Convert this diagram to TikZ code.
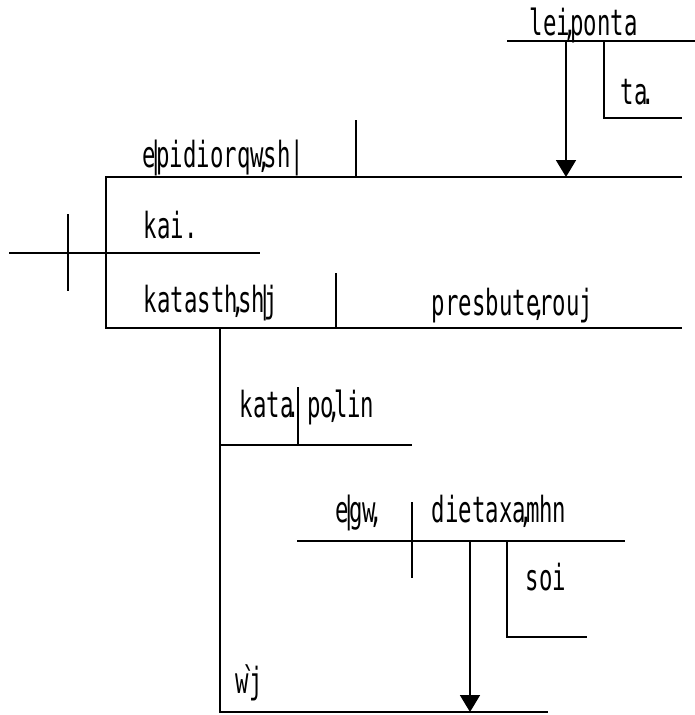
\documentclass[tikz,border=0pt]{standalone}
\usepackage{fontspec}
\usetikzlibrary{arrows.meta}
\newfontfamily\grk[FakeStretch=0.62]{DejaVu Sans Mono}
\newcommand\ov[1]{\makebox[0pt]{#1}}

\begin{document}
\begin{tikzpicture}[x=1pt,y=-1pt,line width=1.9pt,
  word/.style={anchor=base west,inner sep=0pt,font=\grk\fontsize{36}{40}\selectfont},
  arr/.style={-{Triangle[width=20pt,length=17pt]}}]
  \useasboundingbox (0,0) rectangle (695,715);
  % base lines
  \draw (507,41) -- (695,41);
  \draw[arr] (566,41) -- (566,177);
  \draw (604,41) -- (604,118) -- (682,118);
  \draw (356,120) -- (356,177);
  \draw (682,177) -- (106,177) -- (106,328) -- (682,328);
  \draw (9,253) -- (260,253);
  \draw (68,214) -- (68,291);
  \draw (336,273) -- (336,328);
  \draw (220,328) -- (220,712) -- (548,712);
  \draw (220,445) -- (412,445);
  \draw (298,387) -- (298,445);
  \draw (297,541) -- (625,541);
  \draw (412,502) -- (412,578);
  \draw[arr] (470,541) -- (470,712);
  \draw (507,541) -- (507,637) -- (587,637);
  % words
  \node[word] (lei)  at (529,35)  {lei\ov{,}ponta};
  \node[word] (ta)   at (620,104) {ta\ov{.}};
  \node[word] (epi)  at (142,167) {e\ov{|}pidiorqw\ov{,}sh|};
  \node[word] (kai)  at (143,238) {kai.};
  \node[word] (kat)  at (143,312) {katasth\ov{,}sh\ov{|}j};
  \node[word] (pres) at (431,315) {presbute\ov{,}rouj};
  \node[word] (kata) at (239,417) {kata\ov{.} po\ov{,}lin};
  \node[word] (egw)  at (335,522) {e\ov{|}gw\ov{,}};
  \node[word] (diet) at (431,522) {dietaxa\ov{,}mhn};
  \node[word] (soi)  at (525,590) {soi};
  \node[word] (wj)   at (235,693) {w\ov{`}j};
\end{tikzpicture}
\end{document}
